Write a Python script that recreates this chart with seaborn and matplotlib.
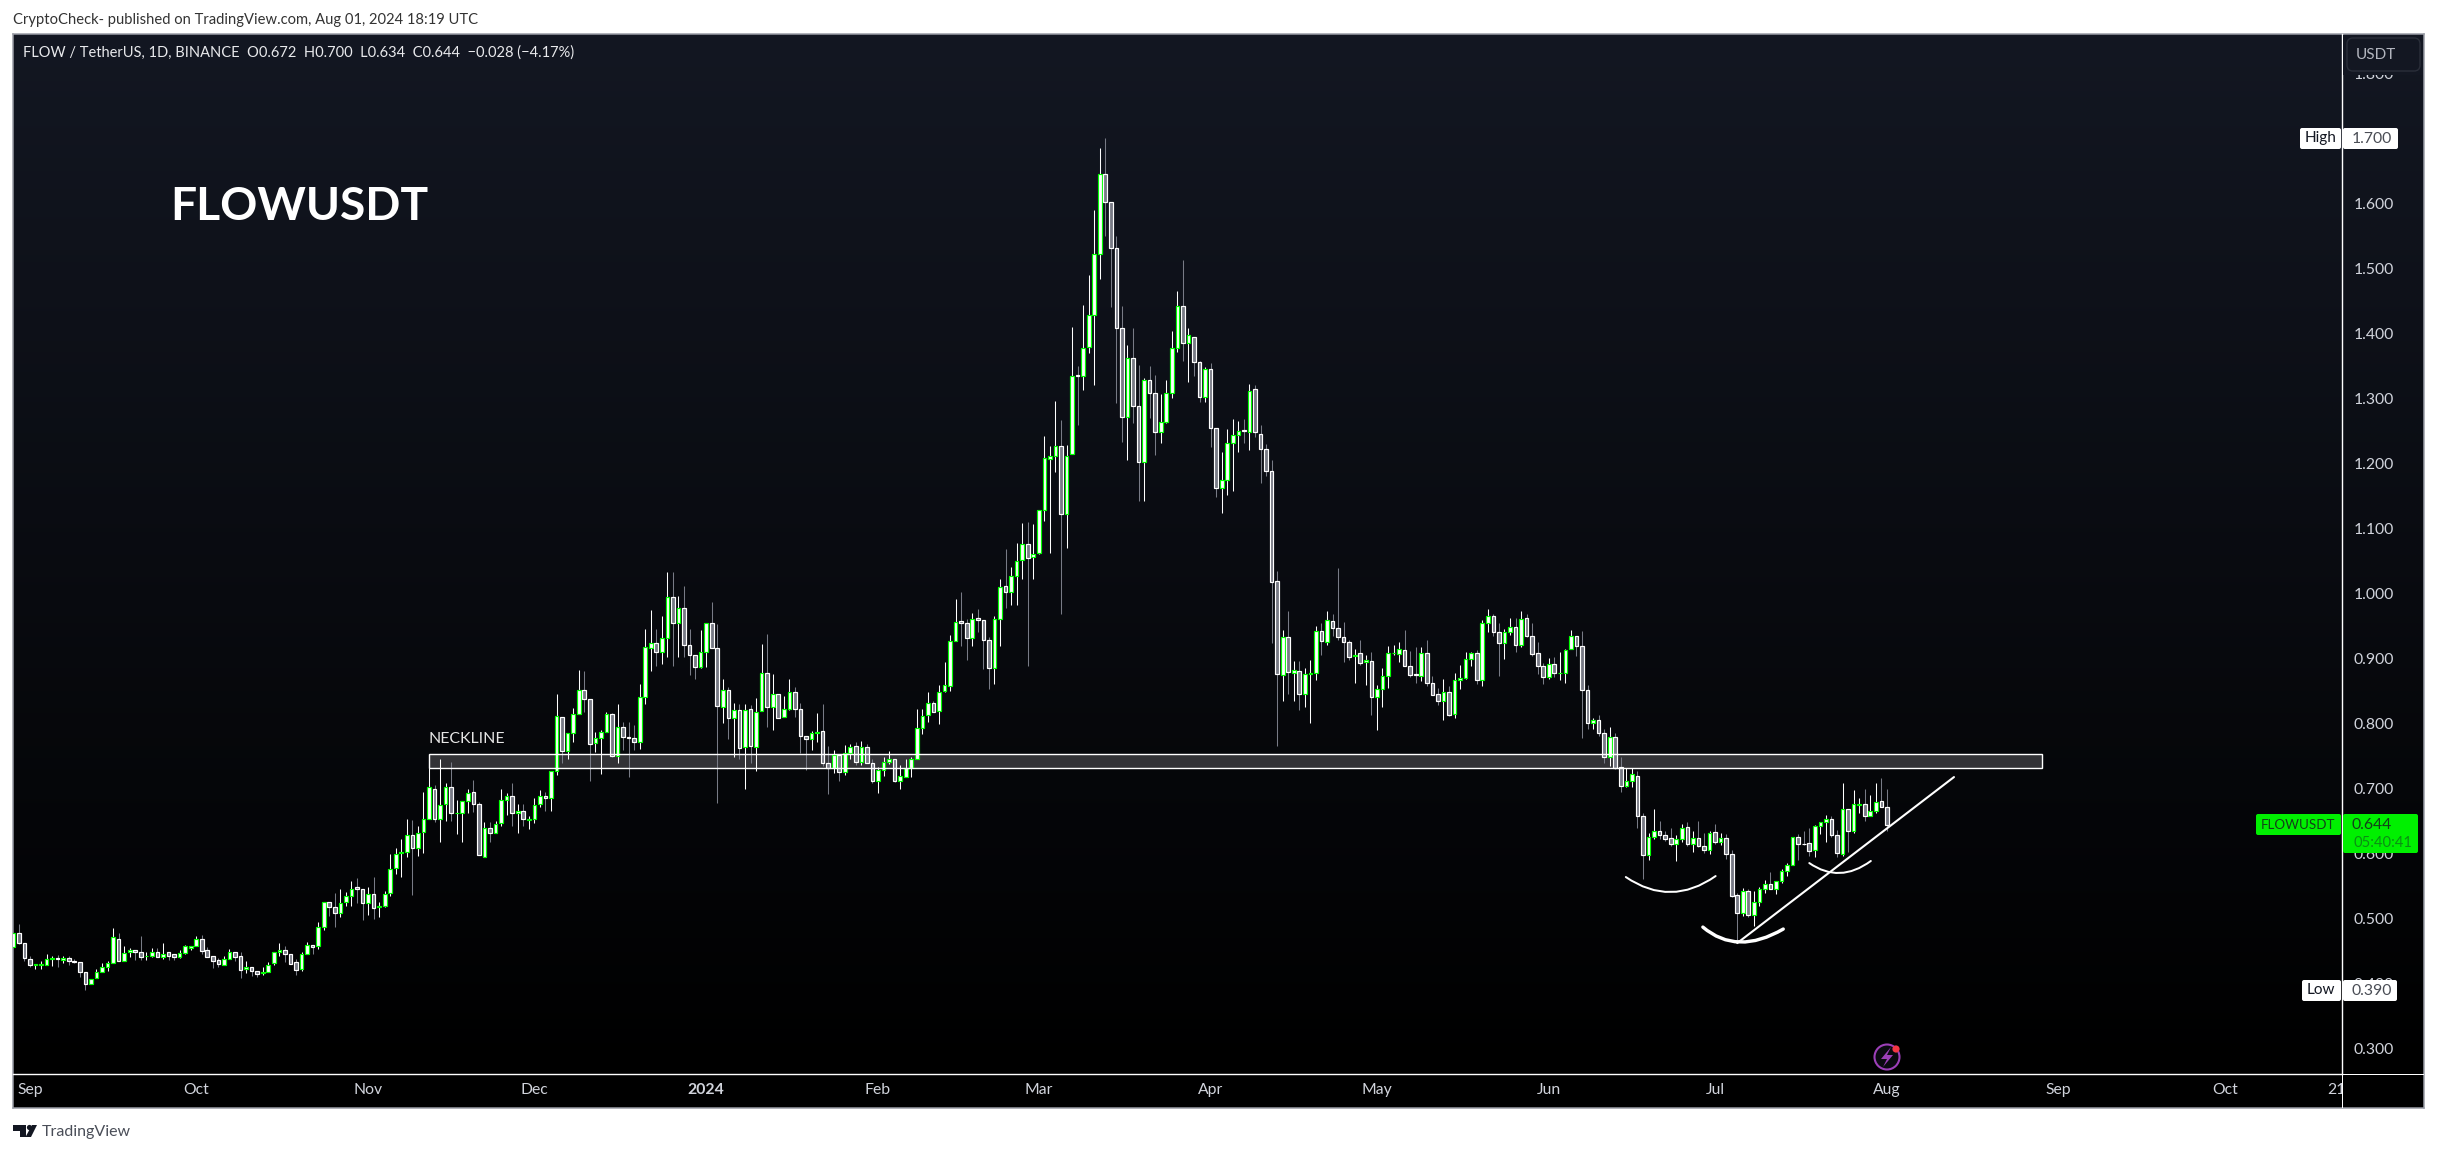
import numpy as np
import pandas as pd
import matplotlib
matplotlib.use("Agg")
import matplotlib.pyplot as plt
import seaborn as sns
from matplotlib.patches import Rectangle, FancyBboxPatch, PathPatch, Circle, Polygon
from matplotlib.path import Path
from matplotlib.transforms import Affine2D, Bbox

start_date = "2023-08-29"

opens = [
 .456,.477,.462,.437,.429,.429,.429,.438,.439,.436,
 .440,.434,.433,.417,.400,.408,.418,.425,.432,.469,
 .435,.448,.451,.449,.442,.443,.449,.441,.448,.445,
 .441,.447,.455,.457,.469,.451,.443,.436,.429,.438,
 .448,.442,.422,.426,.420,.416,.418,.431,.449,.452,
 .445,.433,.423,.445,.459,.457,.487,.525,.518,.508,
 .525,.534,.548,.545,.524,.538,.517,.520,.539,.577,
 .601,.603,.628,.609,.633,.653,.700,.653,.676,.702,
 .662,.662,.681,.694,.676,.595,.640,.631,.647,.683,
 .688,.662,.666,.652,.653,.676,.689,.685,.727,.810,
 .757,.786,.815,.852,.837,.770,.778,.787,.814,.750,
 .795,.779,.778,.772,.841,.916,.924,.910,.932,.995,
 .954,.977,.920,.905,.887,.910,.954,.916,.826,.852,
 .809,.820,.764,.822,.764,.819,.878,.826,.846,.810,
 .823,.849,.823,.781,.776,.786,.789,.739,.732,.752,
 .725,.755,.765,.741,.764,.740,.712,.728,.741,.745,
 .712,.718,.732,.745,.793,.813,.831,.819,.850,.858,
 .927,.957,.955,.932,.962,.959,.928,.885,.960,1.012,
 1.003,1.027,1.052,1.076,1.056,1.062,1.129,1.207,1.212,1.227,
 1.122,1.214,1.336,1.335,1.379,1.429,1.523,1.645,1.602,1.532,
 1.408,1.271,1.362,1.289,1.202,1.329,1.308,1.249,1.264,1.308,
 1.377,1.442,1.385,1.395,1.356,1.302,1.345,1.254,1.163,1.175,
 1.231,1.244,1.251,1.249,1.314,1.246,1.223,1.188,1.019,.875,
 .933,.878,.880,.846,.876,.878,.942,.926,.957,.947,
 .933,.925,.904,.908,.894,.896,.840,.853,.873,.908,
 .907,.913,.889,.876,.873,.909,.862,.845,.835,.848,
 .814,.867,.870,.899,.908,.867,.955,.965,.941,.924,
 .940,.948,.920,.962,.935,.909,.888,.872,.892,.877,
 .877,.914,.935,.919,.852,.801,.805,.785,.749,.779,
 .733,.704,.712,.720,.658,.598,.625,.634,.629,.624,
 .615,.623,.641,.615,.624,.612,.605,.633,.618,.624,
 .600,.536,.509,.543,.505,.525,.546,.553,.545,.557,
 .573,.583,.625,.615,.616,.606,.642,.648,.653,.628,
 .600,.668,.634,.675,.676,.658,.665,.681,.672]

highs = [
 .477,.491,.462,.442,.429,.434,.445,.442,.444,.442,
 .442,.437,.433,.417,.407,.422,.431,.435,.485,.478,
 .458,.454,.451,.473,.448,.454,.454,.463,.448,.445,
 .451,.459,.458,.473,.475,.456,.443,.439,.443,.453,
 .448,.449,.435,.426,.420,.425,.433,.449,.463,.457,
 .445,.437,.449,.464,.459,.495,.525,.525,.539,.546,
 .541,.558,.562,.545,.548,.564,.525,.542,.600,.608,
 .623,.653,.651,.642,.695,.731,.705,.745,.709,.741,
 .682,.681,.699,.713,.680,.649,.649,.650,.699,.693,
 .709,.676,.676,.658,.685,.698,.694,.727,.845,.810,
 .786,.824,.882,.881,.837,.787,.790,.817,.816,.830,
 .803,.802,.797,.860,.946,.975,.946,.965,1.033,1.033,
 .996,1.012,.945,.905,.944,.954,.987,.953,.869,.856,
 .831,.830,.830,.828,.839,.922,.938,.876,.846,.842,
 .868,.856,.831,.781,.788,.816,.830,.765,.759,.752,
 .767,.769,.772,.773,.769,.746,.733,.749,.757,.745,
 .736,.745,.749,.822,.822,.848,.834,.859,.895,.936,
 .992,1.002,.960,.970,.976,.959,.933,.965,1.022,1.069,
 1.040,1.077,1.108,1.110,1.107,1.129,1.242,1.227,1.296,1.267,
 1.228,1.410,1.350,1.444,1.490,1.590,1.685,1.700,1.602,1.550,
 1.442,1.382,1.408,1.351,1.332,1.350,1.336,1.307,1.329,1.404,
 1.465,1.513,1.408,1.395,1.358,1.349,1.354,1.254,1.217,1.253,
 1.268,1.265,1.269,1.323,1.321,1.259,1.230,1.205,1.034,.944,
 .973,.896,.896,.885,.898,.950,.954,.973,.968,1.039,
 .956,.928,.914,.928,.905,.910,.859,.885,.919,.921,
 .925,.944,.912,.918,.918,.928,.873,.854,.868,.857,
 .877,.890,.910,.910,.913,.959,.976,.968,.954,.945,
 .962,.962,.973,.968,.955,.926,.893,.900,.903,.910,
 .915,.944,.935,.942,.859,.809,.813,.791,.795,.785,
 .749,.732,.731,.727,.662,.631,.668,.650,.635,.639,
 .628,.646,.648,.635,.650,.632,.634,.645,.631,.630,
 .605,.540,.547,.545,.542,.549,.559,.571,.558,.576,
 .586,.625,.630,.635,.639,.644,.648,.659,.657,.636,
 .709,.668,.698,.685,.699,.690,.708,.716,.700]

lows = [
 .456,.461,.434,.426,.422,.422,.429,.427,.426,.431,
 .429,.431,.410,.390,.400,.408,.417,.419,.432,.434,
 .435,.441,.436,.436,.436,.441,.441,.438,.436,.436,
 .439,.446,.451,.457,.445,.441,.424,.425,.429,.438,
 .435,.408,.416,.411,.410,.413,.418,.429,.442,.433,
 .430,.413,.420,.445,.445,.453,.482,.504,.487,.503,
 .519,.519,.524,.498,.505,.500,.503,.517,.534,.568,
 .564,.594,.536,.596,.601,.653,.649,.617,.650,.650,
 .630,.617,.662,.664,.597,.595,.618,.631,.642,.659,
 .642,.632,.642,.638,.647,.672,.665,.665,.721,.739,
 .746,.772,.815,.818,.712,.756,.723,.787,.749,.740,
 .759,.717,.759,.760,.830,.880,.888,.892,.903,.888,
 .903,.903,.874,.868,.886,.887,.916,.678,.801,.776,
 .749,.746,.700,.740,.727,.819,.795,.790,.809,.810,
 .820,.810,.754,.729,.759,.772,.734,.692,.724,.712,
 .721,.746,.736,.736,.739,.709,.693,.719,.738,.710,
 .700,.717,.718,.745,.784,.803,.818,.799,.849,.850,
 .927,.919,.897,.919,.941,.884,.853,.861,.919,.977,
 .982,.982,1.022,.888,1.022,1.060,1.112,1.063,1.187,.969,
 1.070,1.214,1.259,1.313,1.370,1.321,1.484,1.550,1.440,1.293,
 1.233,1.205,1.263,1.143,1.143,1.270,1.213,1.231,1.262,1.301,
 1.372,1.357,1.326,1.334,1.294,1.295,1.226,1.149,1.124,1.151,
 1.158,1.218,1.232,1.220,1.241,1.170,1.180,.924,.766,.834,
 .845,.835,.821,.826,.801,.867,.905,.921,.934,.928,
 .894,.897,.863,.890,.859,.813,.790,.826,.854,.906,
 .894,.889,.872,.863,.865,.857,.844,.828,.805,.811,
 .809,.853,.868,.888,.861,.857,.940,.934,.873,.899,
 .936,.910,.917,.933,.904,.876,.861,.869,.872,.867,
 .863,.914,.904,.778,.791,.791,.780,.739,.735,.730,
 .694,.702,.703,.639,.561,.590,.623,.623,.620,.612,
 .588,.618,.612,.603,.610,.601,.599,.614,.613,.592,
 .533,.467,.504,.502,.488,.520,.540,.545,.537,.555,
 .566,.583,.590,.613,.596,.594,.630,.618,.626,.595,
 .596,.603,.632,.662,.650,.657,.662,.672,.634]

closes = [
 .477,.462,.439,.429,.430,.430,.438,.439,.438,.439,
 .434,.433,.417,.399,.407,.418,.426,.432,.471,.435,
 .447,.451,.449,.441,.443,.449,.441,.446,.443,.441,
 .447,.457,.458,.469,.450,.441,.435,.430,.438,.448,
 .441,.421,.426,.420,.415,.417,.429,.449,.452,.445,
 .430,.421,.445,.459,.456,.487,.525,.518,.508,.524,
 .534,.546,.545,.524,.538,.516,.520,.538,.576,.600,
 .602,.628,.609,.632,.653,.702,.653,.675,.702,.662,
 .663,.681,.693,.676,.597,.640,.631,.646,.682,.688,
 .662,.666,.653,.653,.675,.689,.685,.727,.812,.757,
 .786,.814,.852,.838,.769,.778,.787,.814,.750,.795,
 .779,.778,.772,.841,.917,.924,.910,.932,.995,.954,
 .978,.920,.905,.887,.910,.954,.916,.827,.852,.809,
 .820,.763,.821,.766,.818,.878,.826,.846,.809,.823,
 .849,.823,.780,.776,.786,.787,.739,.732,.751,.725,
 .755,.764,.741,.764,.739,.712,.728,.741,.745,.712,
 .720,.732,.745,.793,.812,.832,.818,.849,.859,.927,
 .956,.954,.932,.961,.959,.928,.885,.960,1.010,1.002,
 1.027,1.050,1.076,1.055,1.061,1.129,1.209,1.211,1.227,1.123,
 1.212,1.335,1.335,1.377,1.429,1.522,1.645,1.602,1.532,1.408,
 1.272,1.362,1.289,1.202,1.328,1.308,1.249,1.264,1.308,1.378,
 1.443,1.385,1.397,1.356,1.302,1.346,1.254,1.162,1.175,1.231,
 1.244,1.250,1.250,1.312,1.248,1.223,1.188,1.018,.876,.933,
 .879,.882,.846,.876,.877,.943,.927,.959,.947,.933,
 .925,.903,.905,.893,.897,.841,.853,.873,.909,.909,
 .914,.889,.875,.875,.909,.862,.844,.834,.849,.813,
 .867,.870,.899,.908,.867,.954,.965,.940,.924,.940,
 .949,.920,.961,.935,.907,.888,.872,.892,.877,.878,
 .913,.935,.919,.852,.801,.805,.785,.748,.779,.731,
 .704,.712,.722,.658,.598,.625,.634,.629,.623,.615,
 .623,.640,.615,.624,.612,.606,.632,.618,.624,.600,
 .535,.509,.543,.505,.525,.545,.553,.545,.557,.573,
 .582,.625,.615,.614,.604,.642,.648,.653,.628,.601,
 .669,.634,.676,.676,.658,.665,.680,.672,.644]

tick_dates = ["2023-09-01","2023-10-01","2023-11-01","2023-12-01","2024-01-01","2024-02-01",
              "2024-03-01","2024-04-01","2024-05-01","2024-06-01","2024-07-01","2024-08-01",
              "2024-09-01","2024-10-01","2024-10-21"]
tick_labels = ["Sep","Oct","Nov","Dec","2024","Feb","Mar","Apr","May","Jun","Jul","Aug","Sep","Oct","21"]
price_ticks = [0.3,0.4,0.5,0.6,0.7,0.8,0.9,1.0,1.1,1.2,1.3,1.4,1.5,1.6,1.7,1.8]

neckline_dates = ["2023-11-12", "2024-08-29"]
neckline_prices = [0.7315, 0.7530]
trend_days = [311.0, 350.1]
trend_prices = [0.4622, 0.7176]
arcs = [([290.9, 299.0, 307.1], [0.5638, 0.5407, 0.5653], 2.0),
        ([304.8, 311.5, 319.3], [0.4868, 0.4638, 0.4838], 3.4),
        ([324.0, 329.5, 335.1], [0.5853, 0.5700, 0.5885], 2.0)]

W, H = 2437, 1153
FONT = ["Lato", "DejaVu Sans"]
sns.set_theme(style="dark", rc={"axes.grid": False})
plt.rcParams["font.family"] = FONT
plt.rcParams["axes.unicode_minus"] = False

fig = plt.figure(figsize=(W/100, H/100), dpi=100, facecolor="white")
px = Affine2D().scale(1/W, -1/H).translate(0, 1) + fig.transFigure

def rect(l, t, r, b):
    return [l/W, 1-b/H, (r-l)/W, (b-t)/H]

# panel background with its vertical gradient
bg = fig.add_axes(rect(13, 34, 2424, 1108), zorder=0)
bg.set_xticks([]); bg.set_yticks([])
g = np.clip(1 - np.linspace(0, 1, 256)/0.97, 0, 1)[:, None, None]
top = np.array([19, 23, 34])/255
bg.imshow(g*top[None, None, :], aspect="auto", extent=(0, 1, 0, 1), interpolation="bilinear")
for s in bg.spines.values():
    s.set_color("#9a9da6"); s.set_linewidth(1.1)

ax = fig.add_axes(rect(13, 34, 2342, 1074), zorder=1)
ax.patch.set_alpha(0)

df = pd.DataFrame({"date": pd.date_range(start_date, periods=len(closes)),
                   "open": opens, "high": highs, "low": lows, "close": closes})
origin = df["date"].iloc[0]
df["day"] = (df["date"] - origin).dt.days
df["base"] = df[["open", "close"]].min(axis=1)
df["span"] = (df["close"] - df["open"]).abs()
up = df[df["close"] >= df["open"]]
down = df[df["close"] < df["open"]]

GREEN = "#00ff00"
GREY = "#787b86"
ax.vlines(up["day"], up["low"], up["high"], color="white", lw=0.75, zorder=3)
ax.vlines(down["day"], down["low"], down["high"], color=GREY, lw=0.75, zorder=3)
sns.barplot(data=up, x="day", y="span", bottom=up["base"].to_numpy(), native_scale=True,
            errorbar=None, width=0.66, color="white", saturation=1, edgecolor=GREEN,
            linewidth=0.85, zorder=4, ax=ax)
sns.barplot(data=down, x="day", y="span", bottom=down["base"].to_numpy(), native_scale=True,
            errorbar=None, width=0.66, color=GREY, saturation=1, edgecolor="white",
            linewidth=0.85, zorder=4, ax=ax)

ax.set_xlim(-0.054, 420.1)
ax.set_ylim(0.2608, 1.8607)
ax.set_xlabel(""); ax.set_ylabel("")

tick_days = [(pd.Timestamp(d) - origin).days for d in tick_dates]
ax.set_xticks(tick_days)
ax.set_xticklabels(tick_labels)
ax.yaxis.tick_right()
ax.set_yticks(price_ticks)
ax.set_yticklabels([f"{v:.3f}" for v in price_ticks])
ax.tick_params(axis="y", length=0, pad=8.5, labelsize=11.3, labelcolor="#d1d4dc", right=False, left=False)
ax.tick_params(axis="x", length=0, pad=6.5, labelsize=11.3, labelcolor="#d1d4dc", bottom=False)
clip = Bbox.from_extents(13, H-1108, 2342, H-1074)
for lab in ax.get_xticklabels():
    lab.set_clip_box(clip); lab.set_clip_on(True)
    if lab.get_text() == "2024":
        lab.set_fontweight("bold")
for s in ("top", "left"):
    ax.spines[s].set_visible(False)
ax.spines["right"].set_color("white"); ax.spines["right"].set_linewidth(1.0)
ax.spines["bottom"].set_color("white"); ax.spines["bottom"].set_linewidth(1.0)

# lines that finish the scale frame
ax.add_patch(Rectangle((2342, 1073.5), 82, 1.2, transform=px, color="white", lw=0, clip_on=False, zorder=5))
ax.add_patch(Rectangle((2341.5, 1074), 1.2, 34, transform=px, color="white", lw=0, clip_on=False, zorder=12))

# neckline zone
n0 = (pd.Timestamp(neckline_dates[0]) - origin).days
n1 = (pd.Timestamp(neckline_dates[1]) - origin).days
ax.add_patch(Rectangle((n0, neckline_prices[0]), n1-n0, neckline_prices[1]-neckline_prices[0],
                       facecolor=(1, 1, 1, 0.18), edgecolor="none", zorder=2))
ax.add_patch(Rectangle((n0, neckline_prices[0]), n1-n0, neckline_prices[1]-neckline_prices[0],
                       facecolor="none", edgecolor="white", lw=1.0, zorder=5))
ax.text(429, 739, "NECKLINE", transform=px, color="#e6e6e6", fontsize=11.4, va="center", ha="left", zorder=8)

# trend line and arcs
ax.plot(trend_days, trend_prices, color="white", lw=1.5, solid_capstyle="round", zorder=6)
for xs, ys, lw in arcs:
    cx = 2*xs[1] - 0.5*(xs[0]+xs[2])
    cy = 2*ys[1] - 0.5*(ys[0]+ys[2])
    path = Path([(xs[0], ys[0]), (cx, cy), (xs[2], ys[2])], [Path.MOVETO, Path.CURVE3, Path.CURVE3])
    ax.add_patch(PathPatch(path, facecolor="none", edgecolor="white", lw=lw*0.72, capstyle="round", zorder=6))

# scale furniture
top_bg = (19/255, 23/255, 34/255)
ax.add_patch(Rectangle((2343, 35), 80, 39.5, transform=px, facecolor=top_bg, lw=0, clip_on=False, zorder=10))
ax.add_patch(FancyBboxPatch((2350, 41), 67, 27, boxstyle="round,pad=3,rounding_size=6", transform=px,
                            facecolor=top_bg, edgecolor="#2a2e39", lw=1.0, clip_on=False, zorder=11))
ax.text(2376, 55, "USDT", transform=px, color="#b2b5be", fontsize=11, ha="center", va="center", zorder=12)

def tag(l, t, r, b, color):
    ax.add_patch(FancyBboxPatch((l+1, t+1), r-l-2, b-t-2, boxstyle="round,pad=1,rounding_size=2", transform=px,
                                facecolor=color, edgecolor="none", clip_on=False, zorder=11))

tag(2300, 128, 2341, 149, "white"); tag(2343, 128, 2398, 149, "white")
ax.text(2321, 138, "High", transform=px, color="#131722", fontsize=11, ha="center", va="center", zorder=12)
ax.text(2372, 139, "1.700", transform=px, color="#4a4d55", fontsize=11.3, ha="center", va="center", zorder=12)
tag(2302, 980, 2341, 1001, "white"); tag(2343, 980, 2397, 1001, "white")
ax.text(2321, 990, "Low", transform=px, color="#131722", fontsize=11, ha="center", va="center", zorder=12)
ax.text(2372, 991, "0.390", transform=px, color="#4a4d55", fontsize=11.3, ha="center", va="center", zorder=12)
G2 = "#00f000"
tag(2256, 814, 2341, 835, G2); tag(2343, 814, 2418, 853, G2)
ax.text(2298, 825, "FLOWUSDT", transform=px, color="#14401a", fontsize=9.6, ha="center", va="center", zorder=12)
ax.text(2372, 825, "0.644", transform=px, color="#14401a", fontsize=11.3, ha="center", va="center", zorder=12)
ax.text(2383, 843, "05:40:41", transform=px, color="#0b8f14", fontsize=10.6, ha="center", va="center", zorder=12)

# header texts
ax.text(13, 20, "CryptoCheck- published on TradingView.com, Aug 01, 2024 18:19 UTC", transform=px,
        color="#333333", fontsize=10.65, va="center", ha="left", clip_on=False, zorder=12)
ax.text(23, 53, "FLOW / TetherUS, 1D, BINANCE  O0.672  H0.700  L0.634  C0.644  \u22120.028 (\u22124.17%)",
        transform=px, color="#e8e9ec", fontsize=10.5, va="center", ha="left", zorder=12)
ax.text(170, 207, "FLOWUSDT", transform=px, color="white", fontsize=33.2, fontweight="bold",
        va="center", ha="left", zorder=12)

# lightning badge
ax.add_patch(Circle((1887, 1057), 12.5, transform=px, facecolor="#0a0a10", edgecolor="#9c3fb8", lw=1.5, zorder=7))
ax.add_patch(Polygon([(1891, 1047), (1881, 1059), (1887, 1059), (1883, 1067), (1893, 1055), (1887, 1055)],
                     transform=px, facecolor="#9c3fb8", edgecolor="none", zorder=8))
ax.add_patch(Circle((1896, 1049), 3.6, transform=px, facecolor="#f23645", edgecolor="none", zorder=9))

# footer brand
ax.add_patch(Polygon([(13, 1125), (26, 1125), (26, 1137), (20, 1137), (20, 1131), (13, 1131)], transform=px,
                     facecolor="#131722", edgecolor="none", clip_on=False, zorder=12))
ax.add_patch(Circle((29.5, 1127.5), 2.6, transform=px, facecolor="#131722", edgecolor="none", clip_on=False, zorder=12))
ax.add_patch(Polygon([(32, 1125), (37, 1125), (31, 1137), (25.5, 1137)], transform=px,
                     facecolor="#131722", edgecolor="none", clip_on=False, zorder=12))
ax.text(42, 1132, "TradingView", transform=px, color="#4a4e58", fontsize=11.5, va="center", ha="left",
        clip_on=False, zorder=12)

fig.savefig("out.png", dpi=100)
